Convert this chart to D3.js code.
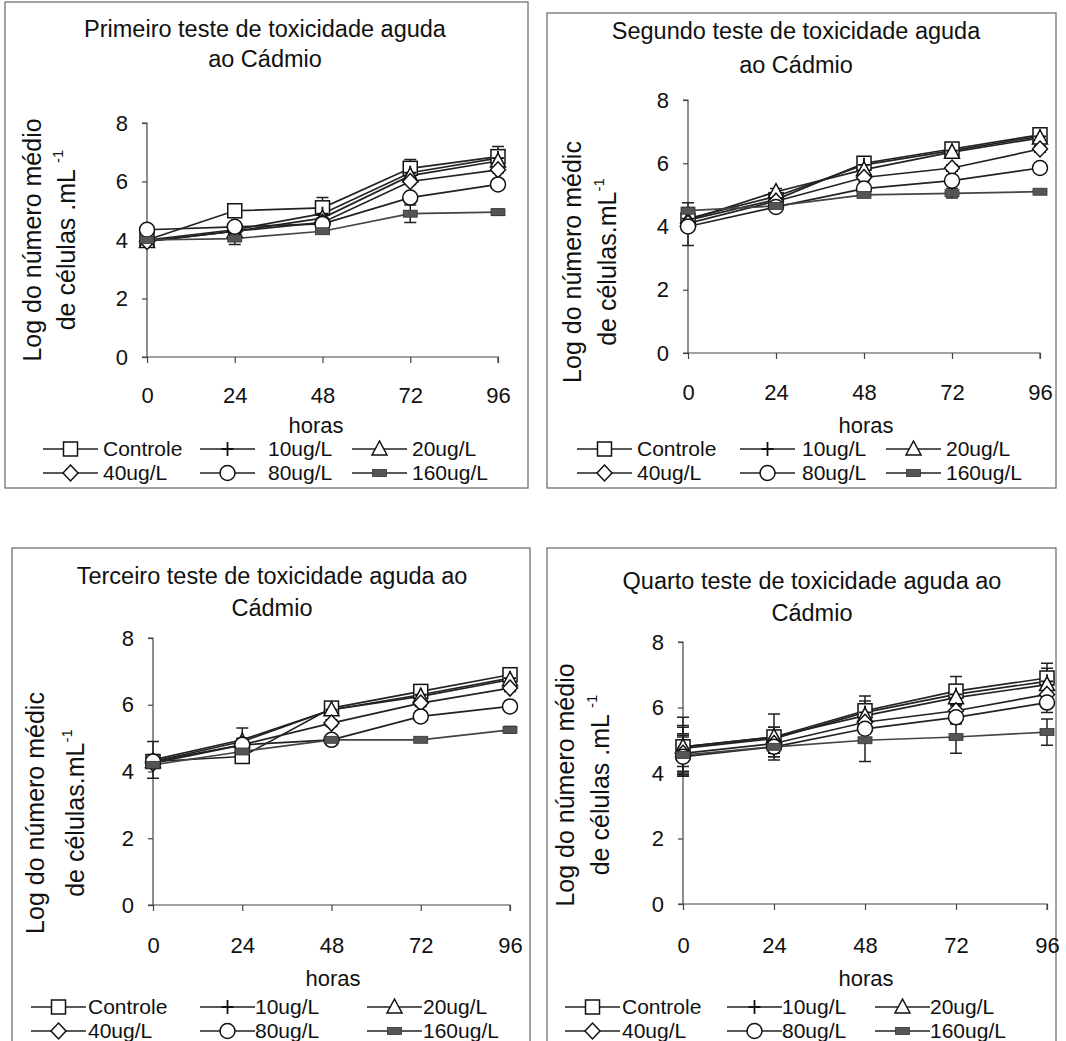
<!DOCTYPE html>
<html><head><meta charset="utf-8">
<script src="https://cdn.jsdelivr.net/npm/d3@7"></script>
<style>
body{margin:0;background:#fff}
svg{display:block}
text{font-family:"Liberation Sans",Arial,sans-serif;fill:#111}
</style>
</head><body>
<svg id="chart" width="1066" height="1041"></svg>
<script>
// ---------------- DATA ----------------
const hours = [0, 24, 48, 72, 96];
const yTicks = [0, 2, 4, 6, 8];
const seriesNames = ["Controle", "10ug/L", "20ug/L", "40ug/L", "80ug/L", "160ug/L"];
const seriesMarkers = ["square", "plus", "triangle", "diamond", "circle", "bar"];

const titles = [
  ["Primeiro teste de toxicidade aguda", "ao Cádmio"],
  ["Segundo teste de toxicidade aguda", "ao Cádmio"],
  ["Terceiro teste de toxicidade aguda ao", "Cádmio"],
  ["Quarto teste de toxicidade aguda ao", "Cádmio"]
];
const yLabelLine1 = ["Log do número médio", "Log do número médic", "Log do número médic", "Log do número médio"];
const yLabelLine2 = ["de células .mL ", "de células.mL", "de células.mL", "de células .mL "];
const xLabel = "horas";

// log mean cell number, rows = series (Controle..160ug/L), cols = hours
const test1Values = [
  [4.0, 5.0, 5.1, 6.45, 6.85],
  [4.0, 4.35, 4.9, 6.3, 6.8],
  [3.95, 4.3, 4.75, 6.2, 6.7],
  [3.95, 4.3, 4.6, 6.0, 6.4],
  [4.35, 4.45, 4.55, 5.45, 5.9],
  [4.0, 4.05, 4.3, 4.9, 4.95]
];
const test1Errors = [
  [0.1, 0.1, 0.35, 0.3, 0.35],
  [0.1, 0.1, 0.15, 0.2, 0.2],
  [0.05, 0.1, 0.1, 0.15, 0.15],
  [0.05, 0.1, 0.1, 0.1, 0.1],
  [0.05, 0.1, 0.1, 0.1, 0.1],
  [0.1, 0.2, 0.05, 0.3, 0.1]
];
const test2Values = [
  [4.2, 4.85, 6.0, 6.45, 6.9],
  [4.25, 4.95, 5.95, 6.4, 6.85],
  [4.2, 5.1, 5.8, 6.35, 6.8],
  [4.1, 4.8, 5.55, 5.85, 6.45],
  [4.0, 4.62, 5.2, 5.45, 5.85],
  [4.5, 4.65, 5.0, 5.05, 5.1]
];
const test2Errors = [
  [0.1, 0.1, 0.2, 0.1, 0.2],
  [0.1, 0.1, 0.15, 0.1, 0.15],
  [0.1, 0.1, 0.1, 0.1, 0.1],
  [0.1, 0.1, 0.1, 0.1, 0.1],
  [0.6, 0.1, 0.1, 0.1, 0.1],
  [0.25, 0.05, 0.05, 0.15, 0.05]
];
const test3Values = [
  [4.3, 4.45, 5.9, 6.4, 6.9],
  [4.35, 4.95, 5.85, 6.3, 6.8],
  [4.3, 4.9, 5.85, 6.25, 6.75],
  [4.25, 4.8, 5.45, 6.05, 6.5],
  [4.3, 4.8, 4.95, 5.65, 5.95],
  [4.2, 4.6, 4.95, 4.95, 5.25]
];
const test3Errors = [
  [0.1, 0.1, 0.1, 0.2, 0.2],
  [0.55, 0.35, 0.15, 0.15, 0.2],
  [0.1, 0.1, 0.1, 0.1, 0.1],
  [0.1, 0.1, 0.1, 0.1, 0.1],
  [0.1, 0.1, 0.1, 0.1, 0.1],
  [0.1, 0.1, 0.05, 0.05, 0.1]
];
const test4Values = [
  [4.8, 5.1, 5.9, 6.5, 6.9],
  [4.75, 5.05, 5.85, 6.4, 6.8],
  [4.8, 5.1, 5.75, 6.3, 6.7],
  [4.6, 4.9, 5.55, 5.9, 6.4],
  [4.5, 4.8, 5.35, 5.7, 6.15],
  [4.55, 4.8, 5.0, 5.1, 5.25]
];
const test4Errors = [
  [0.9, 0.7, 0.45, 0.45, 0.45],
  [0.7, 0.35, 0.35, 0.25, 0.4],
  [0.6, 0.3, 0.3, 0.2, 0.3],
  [0.6, 0.3, 0.3, 0.2, 0.3],
  [0.6, 0.3, 0.3, 0.2, 0.3],
  [0.6, 0.3, 0.65, 0.5, 0.4]
];

// ---------------- LAYOUT ----------------
const panels = [
  {values: test1Values, errors: test1Errors, idx: 0,
   box: [5, 2, 528, 488], x0: 147, x1: 498, yTop: 123, yBot: 357,
   titleX: 265, titleY: [29, 59], ylabX: [32, 66], ylabY: 240,
   tickY: 395, xlabX: 316, xlabY: 425, legFont: 21,
   legSym: [43, 200, 352], legText: [103, 268, 412], legY: [449, 473]},
  {values: test2Values, errors: test2Errors, idx: 1,
   box: [547, 13, 1056, 488], x0: 688, x1: 1040, yTop: 100, yBot: 353,
   titleX: 796, titleY: [31, 65], ylabX: [572, 607], ylabY: 262,
   tickY: 392, xlabX: 866, xlabY: 425, legFont: 21,
   legSym: [577, 740, 886], legText: [637, 802, 946], legY: [449, 473]},
  {values: test3Values, errors: test3Errors, idx: 2,
   box: [12, 548, 530, 1045], x0: 153, x1: 510, yTop: 638, yBot: 905,
   titleX: 272, titleY: [576, 608], ylabX: [35, 75], ylabY: 813,
   tickY: 945, xlabX: 333, xlabY: 978, legFont: 21,
   legSym: [31, 200, 367], legText: [88, 255, 423], legY: [1007, 1031]},
  {values: test4Values, errors: test4Errors, idx: 3,
   box: [547, 548, 1056, 1045], x0: 683, x1: 1047, yTop: 642, yBot: 904,
   titleX: 812, titleY: [581, 613], ylabX: [565, 600], ylabY: 785,
   tickY: 945, xlabX: 866, xlabY: 978, legFont: 21,
   legSym: [565, 727, 875], legText: [622, 782, 930], legY: [1007, 1031]}
];

const svg = d3.select("#chart");
const FONT = 22;
const TITLE_FONT = 23.5;
const YLAB_FONT = 25;
const LEG_SYM_W = 55;

function drawMarker(g, type, cx, cy) {
  const s = 7;
  if (type === "square") {
    g.append("rect").attr("x", cx - s).attr("y", cy - s).attr("width", 2 * s).attr("height", 2 * s)
      .attr("fill", "#fff").attr("stroke", "#111").attr("stroke-width", 1.5);
  } else if (type === "plus") {
    g.append("path").attr("d", `M${cx - 6},${cy}H${cx + 6}M${cx},${cy - 7}V${cy + 7}`)
      .attr("stroke", "#111").attr("stroke-width", 1.8).attr("fill", "none");
  } else if (type === "triangle") {
    g.append("path").attr("d", `M${cx},${cy - 8}L${cx + 7.5},${cy + 6}L${cx - 7.5},${cy + 6}Z`)
      .attr("fill", "#fff").attr("stroke", "#111").attr("stroke-width", 1.5);
  } else if (type === "diamond") {
    g.append("path").attr("d", `M${cx},${cy - 8}L${cx + 7.5},${cy}L${cx},${cy + 8}L${cx - 7.5},${cy}Z`)
      .attr("fill", "#fff").attr("stroke", "#111").attr("stroke-width", 1.5);
  } else if (type === "circle") {
    g.append("circle").attr("cx", cx).attr("cy", cy).attr("r", 7.5)
      .attr("fill", "#fff").attr("stroke", "#111").attr("stroke-width", 1.5);
  } else if (type === "bar") {
    g.append("rect").attr("x", cx - 7).attr("y", cy - 3.5).attr("width", 14).attr("height", 7)
      .attr("fill", "#555").attr("stroke", "#333").attr("stroke-width", 0.8);
  }
}

panels.forEach(p => {
  const g = svg.append("g");
  // panel border
  g.append("rect").attr("x", p.box[0]).attr("y", p.box[1])
    .attr("width", p.box[2] - p.box[0]).attr("height", p.box[3] - p.box[1])
    .attr("fill", "none").attr("stroke", "#666").attr("stroke-width", 1.2);

  const x = d3.scaleLinear().domain([0, 96]).range([p.x0, p.x1]);
  const y = d3.scaleLinear().domain([0, 8]).range([p.yBot, p.yTop]);

  // title
  titles[p.idx].forEach((t, i) => {
    g.append("text").attr("x", p.titleX).attr("y", p.titleY[i]).attr("dy", "0.35em")
      .attr("text-anchor", "middle").attr("font-size", TITLE_FONT).text(t);
  });

  // y axis
  const yAxis = d3.axisLeft(y).tickValues(yTicks).tickSize(5).tickPadding(14).tickFormat(d3.format("d"));
  const ya = g.append("g").attr("transform", `translate(${p.x0},0)`).call(yAxis);
  // x axis
  const xAxis = d3.axisBottom(x).tickValues(hours).tickSize(6).tickPadding(16).tickFormat(d3.format("d"));
  const xa = g.append("g").attr("transform", `translate(0,${p.yBot})`).call(xAxis);
  [ya, xa].forEach(a => {
    a.selectAll("path").attr("stroke", "#444").attr("stroke-width", 1.2);
    a.selectAll("line").attr("stroke", "#444").attr("stroke-width", 1.2);
    a.selectAll("text").attr("font-size", FONT).attr("fill", "#111")
      .attr("font-family", '"Liberation Sans",Arial,sans-serif');
  });
  ya.select(".domain").attr("d", `M-5,${p.yTop}H0V${p.yBot}`);
  xa.select(".domain").attr("d", `M${p.x0 - 5},0H${p.x1}V6`);
  xa.selectAll(".tick text").attr("y", null).attr("dy", null)
    .attr("transform", `translate(0,${p.tickY - p.yBot})`).attr("dominant-baseline", "central");

  // y label
  g.append("text").attr("transform", `translate(${p.ylabX[0]},${p.ylabY}) rotate(-90)`)
    .attr("text-anchor", "middle").attr("dy", "0.35em").attr("font-size", YLAB_FONT).text(yLabelLine1[p.idx]);
  const yl2 = g.append("text").attr("transform", `translate(${p.ylabX[1]},${p.ylabY}) rotate(-90)`)
    .attr("text-anchor", "middle").attr("dy", "0.35em").attr("font-size", YLAB_FONT);
  yl2.append("tspan").text(yLabelLine2[p.idx]);
  yl2.append("tspan").attr("font-size", 15).attr("dy", "-0.8em").text("-1");

  // x label
  g.append("text").attr("x", p.xlabX).attr("y", p.xlabY).attr("dy", "0.35em")
    .attr("text-anchor", "middle").attr("font-size", FONT).text(xLabel);

  // lines
  const line = d3.line().x((d, i) => x(hours[i])).y(d => y(d));
  p.values.forEach((vals, s) => {
    g.append("path").attr("d", line(vals)).attr("fill", "none")
      .attr("stroke", s === 5 ? "#444" : "#222").attr("stroke-width", 1.7);
  });
  // error bars
  p.values.forEach((vals, s) => {
    vals.forEach((v, i) => {
      const e = p.errors[s][i];
      const cx = x(hours[i]);
      const yt = y(v + e), yb = y(v - e);
      g.append("path").attr("d", `M${cx},${yt}V${yb}M${cx - 6},${yt}H${cx + 6}M${cx - 6},${yb}H${cx + 6}`)
        .attr("stroke", "#222").attr("stroke-width", 1.5).attr("fill", "none");
    });
  });
  // markers
  p.values.forEach((vals, s) => {
    vals.forEach((v, i) => drawMarker(g, seriesMarkers[s], x(hours[i]), y(v)));
  });

  // legend
  seriesNames.forEach((name, s) => {
    const col = s % 3, row = Math.floor(s / 3);
    const lx = p.legSym[col], ly = p.legY[row];
    g.append("line").attr("x1", lx).attr("x2", lx + LEG_SYM_W).attr("y1", ly).attr("y2", ly)
      .attr("stroke", "#222").attr("stroke-width", 1.5);
    drawMarker(g, seriesMarkers[s], lx + LEG_SYM_W / 2, ly);
    g.append("text").attr("x", p.legText[col]).attr("y", ly).attr("dy", "0.35em")
      .attr("font-size", p.legFont).text(name);
  });
});
</script>
</body></html>
